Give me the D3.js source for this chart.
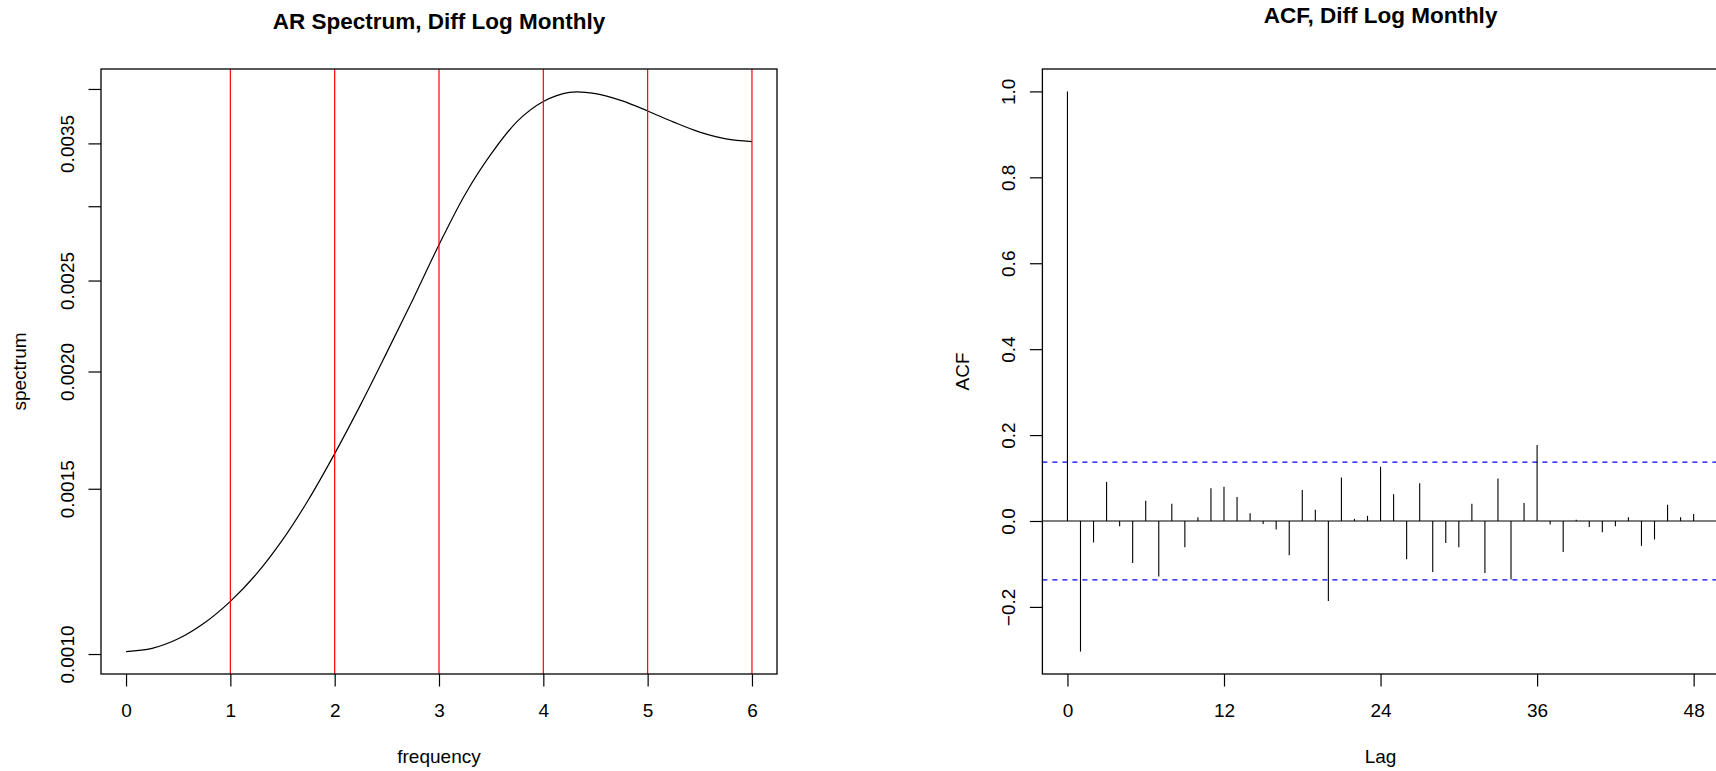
<!DOCTYPE html>
<html>
<head>
<meta charset="utf-8">
<script src="https://cdn.jsdelivr.net/npm/d3@7"></script>
<style>
  html, body { margin: 0; padding: 0; background: #ffffff; }
  svg { display: block; }
  text { font-family: "Liberation Sans", Arial, Helvetica, sans-serif; fill: #000; }
</style>
</head>
<body>
<svg id="chart" width="1716" height="771"></svg>
<script>
// ---- AR spectrum of the differenced log monthly series ----
const specFreq  = [0, 0.25, 0.5, 0.75, 1, 1.25, 1.5, 1.75, 2, 2.25, 2.5, 2.75, 3,
                   3.25, 3.5, 3.75, 4, 4.25, 4.5, 4.75, 5, 5.25, 5.5, 5.75, 6];
const specValue = [0.001006, 0.001014, 0.001038, 0.001079, 0.001138, 0.001217, 0.001323,
                   0.001461, 0.001635, 0.001845, 0.002096, 0.002387, 0.002729, 0.003088,
                   0.003411, 0.003694, 0.003878, 0.003966, 0.003954, 0.003887,
                   0.003790, 0.003687, 0.003598, 0.003539, 0.003516];
const harmonicFreqs   = [1, 2, 3, 4, 5, 6];
const freqTicks       = [0, 1, 2, 3, 4, 5, 6];
const specTickValues  = [0.0010, 0.0015, 0.0020, 0.0025, 0.0030, 0.0035, 0.0040];
const specTickLabels  = ["0.0010", "0.0015", "0.0020", "0.0025", "", "0.0035", ""];

// ---- sample ACF of the same series ----
const acfLags   = d3.range(0, 49);
const acfValues = [1.000, -0.304, -0.050, 0.091, -0.012, -0.098, 0.047, -0.129, 0.040,
                   -0.061, 0.009, 0.076, 0.080, 0.056, 0.018, -0.007, -0.020, -0.080,
                   0.072, 0.026, -0.186, 0.101, 0.005, 0.012, 0.126, 0.062, -0.089,
                   0.088, -0.119, -0.051, -0.061, 0.040, -0.121, 0.099, -0.136, 0.042,
                   0.177, -0.008, -0.072, 0.003, -0.014, -0.026, -0.012, 0.009, -0.058,
                   -0.043, 0.038, 0.0085, 0.016];
const acfBound      = 0.1372;
const lagTicks      = [0, 12, 24, 36, 48];
const acfTickValues = [-0.2, 0.0, 0.2, 0.4, 0.6, 0.8, 1.0];
const acfTickLabels = ["\u22120.2", "0.0", "0.2", "0.4", "0.6", "0.8", "1.0"];

// ---- layout ----
const W = 1716, H = 771;
const leftBox  = { x0: 101,    x1: 777,    y0: 69, y1: 674 };
const rightBox = { x0: 1042.4, x1: 1718.7, y0: 69, y1: 674 };
const TICK = 12.5;
const AXIS_FONT = 19;
const TITLE_FONT = 22.5;

const svg = d3.select("#chart");
svg.append("rect").attr("width", W).attr("height", H).attr("fill", "#fff");

// base-graphics style range padding (4% each side)
function padRange(lo, hi) { const p = (hi - lo) * 0.04; return [lo - p, hi + p]; }

function drawXAxis(g, scale, ticks, box) {
  const ax = g.append("g")
    .attr("transform", `translate(0,${box.y1})`)
    .call(d3.axisBottom(scale).tickValues(ticks).tickSize(TICK).tickSizeOuter(0)
          .tickFormat(d3.format("d")));
  ax.select(".domain").remove();
  ax.selectAll(".tick line").attr("stroke", "#000").attr("stroke-width", 1.2);
  ax.selectAll(".tick text")
    .attr("y", 43).attr("dy", 0)
    .style("font-size", AXIS_FONT + "px")
    .style("font-family", '"Liberation Sans", Arial, sans-serif')
    .attr("fill", "#000");
}

function drawYAxis(g, scale, ticks, labels, box) {
  const ax = g.append("g")
    .attr("transform", `translate(${box.x0},0)`)
    .call(d3.axisLeft(scale).tickValues(ticks).tickSize(TICK).tickSizeOuter(0)
          .tickFormat((d, i) => labels[i]));
  ax.select(".domain").remove();
  ax.selectAll(".tick line").attr("stroke", "#000").attr("stroke-width", 1.2);
  ax.selectAll(".tick text")
    .attr("transform", "rotate(-90)")
    .attr("x", 0).attr("y", -27).attr("dy", 0)
    .attr("text-anchor", "middle")
    .style("font-size", AXIS_FONT + "px")
    .style("font-family", '"Liberation Sans", Arial, sans-serif')
    .attr("fill", "#000");
}

function drawFrame(g, box) {
  g.append("rect")
    .attr("x", box.x0).attr("y", box.y0)
    .attr("width", box.x1 - box.x0).attr("height", box.y1 - box.y0)
    .attr("fill", "none").attr("stroke", "#000").attr("stroke-width", 1.3);
}

// ================= left panel: AR spectrum =================
{
  const box = leftBox;
  const g = svg.append("g");
  const x = d3.scaleLinear().domain(padRange(d3.min(specFreq), d3.max(specFreq)))
              .range([box.x0, box.x1]);
  const logExt = padRange(Math.log10(d3.min(specValue)), Math.log10(d3.max(specValue)) + 0.0011);
  const y = d3.scaleLog().domain([10 ** logExt[0], 10 ** logExt[1]]).range([box.y1, box.y0]);

  const pts = specFreq.map((f, i) => [f, specValue[i]]);
  g.append("path")
    .datum(pts)
    .attr("fill", "none").attr("stroke", "#000").attr("stroke-width", 1.2)
    .attr("d", d3.line().x(d => x(d[0])).y(d => y(d[1])).curve(d3.curveCatmullRom.alpha(0.5)));

  // seasonal harmonics
  g.selectAll("line.harm").data(harmonicFreqs).join("line")
    .attr("class", "harm")
    .attr("x1", d => x(d)).attr("x2", d => x(d))
    .attr("y1", box.y0).attr("y2", box.y1)
    .attr("stroke", "#ff0000").attr("stroke-width", 1.2);

  drawFrame(g, box);
  drawXAxis(g, x, freqTicks, box);
  drawYAxis(g, y, specTickValues, specTickLabels, box);

  g.append("text")
    .attr("x", (box.x0 + box.x1) / 2).attr("y", 29)
    .attr("text-anchor", "middle")
    .style("font-size", TITLE_FONT + "px").style("font-weight", "bold")
    .text("AR Spectrum, Diff Log Monthly");
  g.append("text")
    .attr("x", (box.x0 + box.x1) / 2).attr("y", 763)
    .attr("text-anchor", "middle")
    .style("font-size", AXIS_FONT + "px")
    .text("frequency");
  g.append("text")
    .attr("transform", `translate(26,${(box.y0 + box.y1) / 2}) rotate(-90)`)
    .attr("text-anchor", "middle")
    .style("font-size", AXIS_FONT + "px")
    .text("spectrum");
}

// ================= right panel: ACF =================
{
  const box = rightBox;
  const g = svg.append("g");
  const x = d3.scaleLinear().domain(padRange(d3.min(acfLags), d3.max(acfLags)))
              .range([box.x0, box.x1]);
  const y = d3.scaleLinear().domain(padRange(d3.min(acfValues), d3.max(acfValues)))
              .range([box.y1, box.y0]);

  // zero reference
  g.append("line")
    .attr("x1", box.x0).attr("x2", box.x1)
    .attr("y1", y(0)).attr("y2", y(0))
    .attr("stroke", "#000").attr("stroke-width", 1.2);

  // significance bounds
  g.selectAll("line.bound").data([acfBound, -acfBound]).join("line")
    .attr("class", "bound")
    .attr("x1", box.x0).attr("x2", box.x1)
    .attr("y1", d => y(d)).attr("y2", d => y(d))
    .attr("stroke", "#0000ff").attr("stroke-width", 1.2)
    .attr("stroke-dasharray", "5,5");

  // spikes
  g.selectAll("line.spike").data(acfLags).join("line")
    .attr("class", "spike")
    .attr("x1", d => x(d)).attr("x2", d => x(d))
    .attr("y1", y(0)).attr("y2", (d, i) => y(acfValues[i]))
    .attr("stroke", "#000").attr("stroke-width", 1.1);

  drawFrame(g, box);
  drawXAxis(g, x, lagTicks, box);
  drawYAxis(g, y, acfTickValues, acfTickLabels, box);

  g.append("text")
    .attr("x", (box.x0 + box.x1) / 2).attr("y", 22.5)
    .attr("text-anchor", "middle")
    .style("font-size", TITLE_FONT + "px").style("font-weight", "bold")
    .text("ACF, Diff Log Monthly");
  g.append("text")
    .attr("x", (box.x0 + box.x1) / 2).attr("y", 763)
    .attr("text-anchor", "middle")
    .style("font-size", AXIS_FONT + "px")
    .text("Lag");
  g.append("text")
    .attr("transform", `translate(969,${(box.y0 + box.y1) / 2}) rotate(-90)`)
    .attr("text-anchor", "middle")
    .style("font-size", AXIS_FONT + "px")
    .text("ACF");
}
</script>
</body>
</html>
